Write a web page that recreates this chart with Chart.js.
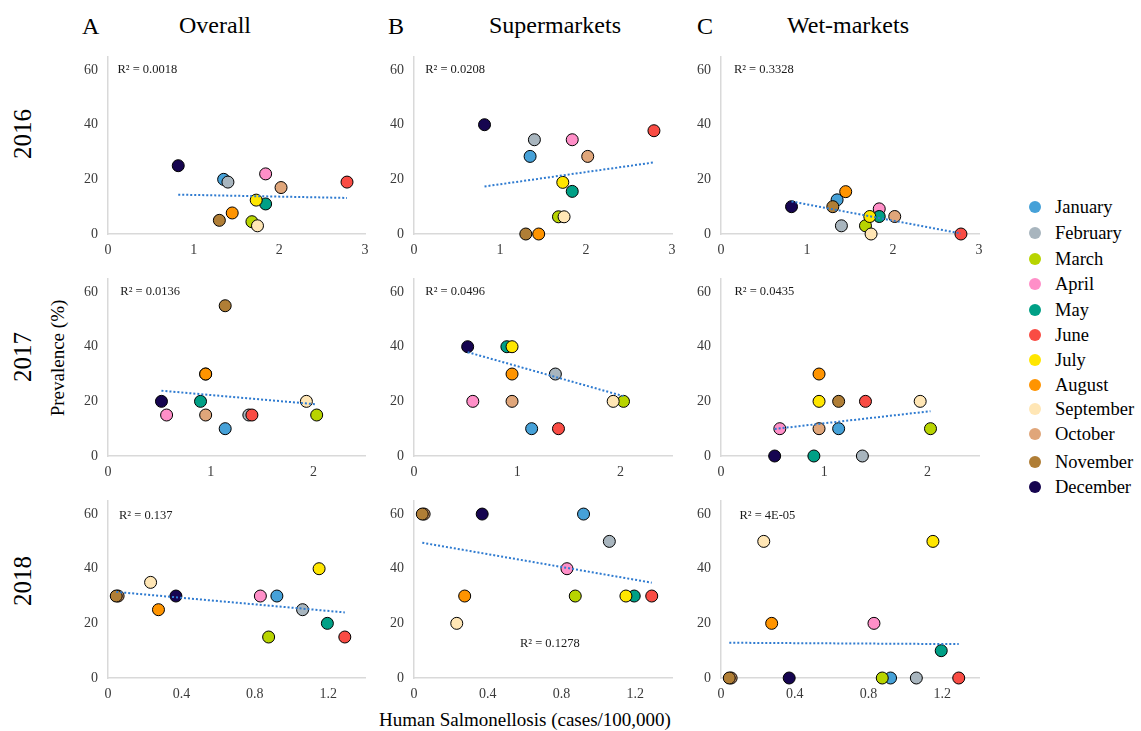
<!DOCTYPE html>
<html><head><meta charset="utf-8">
<script src="https://cdn.jsdelivr.net/npm/chart.js@4.4.0/dist/chart.umd.min.js"></script>
<style>
html,body{margin:0;padding:0;background:#fff}
body{width:1141px;height:731px;position:relative;overflow:hidden;font-family:"Liberation Serif","Times New Roman",serif;color:#000}
canvas{position:absolute}
.t{position:absolute;white-space:nowrap;line-height:1}
.rot{transform:translate(-50%,-50%) rotate(-90deg)}
.ctr{transform:translate(-50%,-50%)}
.lg{position:absolute;left:1029px;font-size:18.5px;line-height:1;white-space:nowrap}
.lg span.d{display:inline-block;width:12px;height:12px;border-radius:50%;vertical-align:middle;margin-right:14px;position:relative;top:-2px}
</style></head><body>
<div id="root"></div>
<script>
// ---------- data ----------
const months = ['January','February','March','April','May','June','July','August','September','October','November','December'];
const monthColors = ['#46a1d8','#a8b5be','#b8d400','#ff8fc8','#00a086','#f94c44','#ffe600','#ff9400','#ffe6b5','#e0a67a','#b07e36','#160550'];

// Human salmonellosis incidence (x) per month
const x2016 = [1.35,1.40,1.68,1.84,1.84,2.79,1.73,1.45,1.745,2.02,1.30,0.82];
const x2017 = [1.14,1.37,2.03,0.57,0.90,1.40,0.95,0.95,1.93,0.95,1.14,0.52];
const x2018 = [0.92,1.06,0.875,0.83,1.195,1.29,1.15,0.275,0.232,0.055,0.045,0.37];

// Prevalence (%) per month
const overall2016 = [20,19,4.5,22,11,19,12.4,7.7,3,17,5,25];
const super2016   = [28.4,34.5,6.3,34.5,15.6,37.8,18.9,0,6.3,28.4,0,40];
const wet2016     = [12.5,3,3,9.2,6.4,0,6.4,15.5,0,6.4,10,10];

const overall2017 = [10,15,15,15,20,15,30,30,20,15,55,20];
const super2017   = [10,30,20,20,40,10,40,30,20,20,null,40];
const wet2017     = [10,0,10,10,0,20,20,30,20,10,20,0];

const overall2018 = [30,25,15,30,20,15,40,25,35,30,30,30];
const super2018   = [60,50,30,40,30,30,30,30,20,60,60,60];
const wet2018     = [0,0,0,20,10,0,50,20,50,0,0,0];

// Linear trend lines [x0,y0,x1,y1]
const trendOverall2016 = [0.82,14.4,2.79,13.2];
const trendSuper2016   = [0.82,17.4,2.79,26.2];
const trendWet2016     = [0.82,11.9,2.79,0.2];
const trendOverall2017 = [0.52,23.9,2.03,18.9];
const trendSuper2017   = [0.52,38.0,2.03,21.9];
const trendWet2017     = [0.52,9.9,2.03,16.4];
const trendOverall2018 = [0.045,31.5,1.29,24.0];
const trendSuper2018   = [0.045,49.5,1.29,34.9];
const trendWet2018     = [0.045,12.9,1.29,12.4];

// R² labels and their anchor (data units)
const r2Texts = ['R² = 0.0018','R² = 0.0208','R² = 0.3328','R² = 0.0136','R² = 0.0496','R² = 0.0435','R² = 0.137','R² = 0.1278','R² = 4E-05'];
const r2Anchors = [[0.11,60],[0.13,60],[0.15,60],[0.12,60],[0.11,60],[0.13,60],[0.06,59.5],[0.575,12.5],[0.10,59.5]];

const yTicks = [0,20,40,60];
const xMaxByYear = [3,2.5,1.4];
const xStepByYear = [1,1,0.4];

const years = ['2016','2017','2018'];
const columnTitles = [['A','Overall'],['B','Supermarkets'],['C','Wet-markets']];

// ---------- layout ----------
const colLeft = [108,414,721];
const colWidth = [257,258,258];
const rowTop = [48,270,492];
const rowHeight = 186;
const YAXW = 40, XAXH = 30, PADT = 10, PADR = 16;

Chart.defaults.font.family = 'Liberation Serif';

const root = document.getElementById('root');
function addText(txt, css, cls){
  const d = document.createElement('div');
  d.className = 't ' + (cls||'');
  d.textContent = txt;
  Object.assign(d.style, css);
  root.appendChild(d);
}

// column titles
const letterLeft = [82,388,697];
const titleCenter = [215,555,848];
columnTitles.forEach((t,i)=>{
  addText(t[0], {left:letterLeft[i]+'px', top:'14px', fontSize:'24px'});
  addText(t[1], {left:titleCenter[i]+'px', top:'25px', fontSize:'24px'}, 'ctr');
});
// year labels
const yearCenterY = [134,357,581];
years.forEach((y,i)=> addText(y, {left:'22px', top:yearCenterY[i]+'px', fontSize:'25px'}, 'rot'));
addText('Prevalence (%)', {left:'57px', top:'358px', fontSize:'19px'}, 'rot');
addText('Human Salmonellosis (cases/100,000)', {left:'525px', top:'719px', fontSize:'19px'}, 'ctr');

// legend
const legendY = [208,234,260,285,311,336,361,386,410,435,463,488];
months.forEach((m,i)=>{
  const d = document.createElement('div');
  d.className = 'lg';
  d.style.top = (legendY[i]-10)+'px';
  const dot = document.createElement('span');
  dot.className = 'd';
  dot.style.background = monthColors[i];
  d.appendChild(dot);
  d.appendChild(document.createTextNode(m));
  root.appendChild(d);
});

// ---------- charts ----------
const xs = [x2016,x2017,x2018];
const ys = [[overall2016,super2016,wet2016],[overall2017,super2017,wet2017],[overall2018,super2018,wet2018]];
const trends = [[trendOverall2016,trendSuper2016,trendWet2016],[trendOverall2017,trendSuper2017,trendWet2017],[trendOverall2018,trendSuper2018,trendWet2018]];

const r2Plugin = {
  id:'r2label',
  afterDatasetsDraw(chart, args, opts){
    const {ctx, scales} = chart;
    ctx.save();
    ctx.font = '12.5px "Liberation Serif", serif';
    ctx.fillStyle = '#1a1a1a';
    ctx.textAlign = 'left';
    ctx.textBaseline = 'middle';
    ctx.fillText(opts.text, scales.x.getPixelForValue(opts.at[0]), scales.y.getPixelForValue(opts.at[1]));
    ctx.restore();
  }
};

const tickFont = {family:'Liberation Serif', size:14};

for (let r=0;r<3;r++){
  for (let c=0;c<3;c++){
    const cv = document.createElement('canvas');
    const w = colWidth[c] + YAXW + PADR, h = rowHeight + PADT + XAXH;
    cv.width = w; cv.height = h;
    cv.style.width = w+'px'; cv.style.height = h+'px';
    cv.style.left = (colLeft[c]-YAXW)+'px';
    cv.style.top = (rowTop[r]-PADT)+'px';
    root.appendChild(cv);

    const datasets = [];
    const tr = trends[r][c];
    datasets.push({
      type:'scatter', data:[{x:tr[0],y:tr[1]},{x:tr[2],y:tr[3]}],
      showLine:true, borderColor:'#2f7bd0', borderWidth:2, borderDash:[2,2],
      pointRadius:0, order:-100, clip:false
    });
    months.forEach((m,i)=>{
      const yv = ys[r][c][i];
      if (yv === null) return;
      datasets.push({
        label:m, data:[{x:xs[r][i], y:yv}],
        backgroundColor:monthColors[i], borderColor:'#000', borderWidth:1,
        pointRadius:6, pointHoverRadius:6, order:-i, clip:false
      });
    });

    new Chart(cv, {
      type:'scatter',
      data:{datasets},
      plugins:[r2Plugin],
      options:{
        responsive:false, animation:false, devicePixelRatio:1,
        layout:{padding:{top:PADT,right:PADR,left:0,bottom:0}},
        plugins:{legend:{display:false}, tooltip:{enabled:false}, r2label:{text:r2Texts[r*3+c], at:r2Anchors[r*3+c]}},
        scales:{
          x:{type:'linear', min:0, max:xMaxByYear[r],
             grid:{display:false, drawTicks:false},
             border:{display:true, color:'#d9d9d9', width:1.5},
             ticks:{stepSize:xStepByYear[r], includeBounds:false, padding:8, color:'#3a3a3a', font:tickFont, maxRotation:0},
             afterFit(s){ s.height = XAXH; }},
          y:{type:'linear', min:0, max:65,
             grid:{display:false, drawTicks:false},
             border:{display:true, color:'#d9d9d9', width:1.5},
             ticks:{stepSize:20, includeBounds:false, padding:10, color:'#3a3a3a', font:tickFont,
                    callback:(v)=> yTicks.includes(v) ? String(v) : ''},
             afterFit(s){ s.width = YAXW; }}
        }
      }
    });
  }
}
</script>
</body></html>
